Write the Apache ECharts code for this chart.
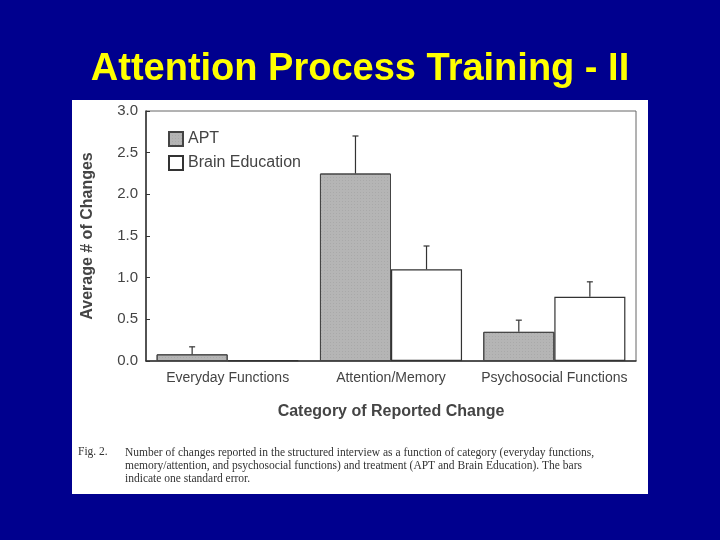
<!DOCTYPE html>
<html><head><meta charset="utf-8">
<script src="https://cdn.jsdelivr.net/npm/echarts@6/dist/echarts.min.js"></script>
<style>html,body{margin:0;padding:0;background:#00008e;}#c{width:720px;height:540px;}</style>
</head><body><div id="c"></div>
<script>
const categories = ['Everyday Functions', 'Attention/Memory', 'Psychosocial Functions'];
const aptValues = [0.08, 2.25, 0.35];
const aptErrors = [0.09, 0.45, 0.14];
const brainValues = [0.01, 1.1, 0.77];
const brainErrors = [0, 0.28, 0.18];
const yTicks = [0, 0.5, 1, 1.5, 2, 2.5, 3];

function errSeries(vals, errs, idx) {
  return {
    type: 'custom', name: 'err' + idx, z: 5,
    data: vals.map((v, i) => [i, v, v + errs[i]]),
    renderItem: function (params, api) {
      if (api.value(2) - api.value(1) <= 0) return null;
      const c = api.coord([api.value(0), 0]);
      const bw = api.size([1, 0])[0] * 0.435;
      const x = c[0] + (idx === 0 ? -bw / 2 : bw / 2);
      const y1 = api.coord([api.value(0), api.value(1)])[1];
      const y2 = api.coord([api.value(0), api.value(2)])[1];
      return {
        type: 'group', children: [
          { type: 'line', shape: { x1: x, y1: y1, x2: x, y2: y2 }, style: { stroke: '#333', lineWidth: 1.2 } },
          { type: 'line', shape: { x1: x - 3, y1: y2, x2: x + 3, y2: y2 }, style: { stroke: '#333', lineWidth: 1.2 } }
        ]
      };
    }
  };
}

const chart = echarts.init(document.getElementById('c'));
chart.setOption({
  backgroundColor: '#00008e',
  animation: false,
  title: {
    text: 'Attention Process Training - II', left: 'center', top: 46,
    textStyle: { color: '#ffff00', fontSize: 38, fontWeight: 'bold', fontFamily: 'Liberation Sans' }
  },
  graphic: [
    { type: 'rect', z: -10, shape: { x: 72, y: 100, width: 576, height: 394 }, style: { fill: '#ffffff' } },
    { type: 'text', left: 78, top: 446, style: { text: 'Fig. 2.', font: '11.5px "Liberation Serif"', fill: '#333' } },
    { type: 'text', left: 125, top: 446, style: { text: 'Number of changes reported in the structured interview as a function of category (everyday functions,\nmemory/attention, and psychosocial functions) and treatment (APT and Brain Education). The bars\nindicate one standard error.', font: '11.5px "Liberation Serif"', fill: '#333', lineHeight: 13 } }
  ],
  legend: {
    left: 163, top: 126, orient: 'vertical', itemGap: 8, itemWidth: 14, itemHeight: 14, icon: 'rect',
    data: [{ name: 'APT' }, { name: 'Brain Education' }],
    textStyle: { color: '#444', fontSize: 16, fontFamily: 'Liberation Sans' }
  },
  grid: { left: 146, right: 84, top: 111, bottom: 179, show: true, borderColor: '#666', borderWidth: 1 },
  xAxis: {
    type: 'category', data: categories,
    name: 'Category of Reported Change', nameLocation: 'middle', nameGap: 43,
    nameTextStyle: { color: '#444', fontSize: 16, fontWeight: 'bold', fontFamily: 'Liberation Sans' },
    axisLine: { lineStyle: { color: '#333', width: 1.5 } }, axisTick: { show: false },
    axisLabel: { color: '#444', fontSize: 14, margin: 10, interval: 0, fontFamily: 'Liberation Sans' }
  },
  yAxis: {
    type: 'value', min: 0, max: 3, interval: 0.5,
    name: 'Average # of Changes', nameLocation: 'middle', nameGap: 50,
    nameTextStyle: { color: '#444', fontSize: 16, fontWeight: 'bold', fontFamily: 'Liberation Sans' },
    splitLine: { show: false },
    axisLine: { show: true, lineStyle: { color: '#333', width: 1.5 } },
    axisTick: { show: true, inside: true, length: 4, lineStyle: { color: '#333' } },
    axisLabel: { color: '#444', fontSize: 15, fontFamily: 'Liberation Sans', formatter: v => v.toFixed(1) }
  },
  series: [
    { name: 'APT', type: 'bar', data: aptValues, barWidth: '43.5%', barGap: '0%',
      itemStyle: { color: '#b5b5b5', borderColor: '#444', borderWidth: 1,
        decal: { symbol: 'rect', symbolSize: 0.5, color: 'rgba(90,90,90,0.5)', dashArrayX: [1, 2], dashArrayY: [1, 2] } } },
    { name: 'Brain Education', type: 'bar', data: brainValues, barWidth: '43.5%',
      itemStyle: { color: '#ffffff', borderColor: '#333', borderWidth: 1.2 } },
    errSeries(aptValues, aptErrors, 0),
    errSeries(brainValues, brainErrors, 1)
  ]
});
</script></body></html>
